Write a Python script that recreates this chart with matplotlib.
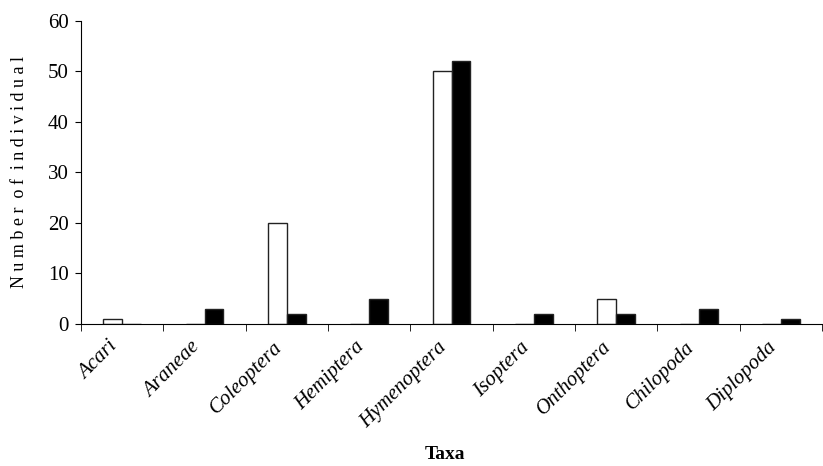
import matplotlib.pyplot as plt
import matplotlib.transforms as mtransforms
import numpy as np

# 数据
taxa = ['Acari', 'Araneae', 'Coleoptera', 'Hemiptera', 'Hymenoptera',
        'Isoptera', 'Onthoptera', 'Chilopoda', 'Diplopoda']
series_white = [1, 0, 20, 0, 50, 0, 5, 0, 0]
series_black = [0, 3, 2, 5, 52, 2, 2, 3, 1]
y_ticks = [0, 10, 20, 30, 40, 50, 60]

plt.rcParams['font.family'] = ['Liberation Serif', 'DejaVu Serif']

fig = plt.figure(figsize=(8.23, 4.66), dpi=100)
ax = fig.add_axes([0.0984, 0.305, 0.9005, 0.65])

x = np.arange(len(taxa))
w = 0.23
ax.bar(x - w / 2, series_white, w, color='white', edgecolor='#222222', linewidth=1)
ax.bar(x + w / 2, series_black, w, color='black', edgecolor='#222222', linewidth=1)

ax.set_xlim(-0.5, len(taxa) - 0.5)
ax.set_ylim(0, 60)
ax.set_yticks(y_ticks)
ax.tick_params(axis='y', labelsize=15, length=4, direction='out', pad=5)

ax.set_xticks(x)
ax.set_xticklabels(taxa, rotation=45, ha='right', rotation_mode='anchor',
                   fontsize=15, fontstyle='italic')
ax.tick_params(axis='x', which='major', length=0, pad=10)
ax.set_xticks(np.arange(-0.5, len(taxa)), minor=True)
ax.tick_params(axis='x', which='minor', length=5, direction='out')

# 标签整体左移一点
offset = mtransforms.ScaledTranslation(-14 / 100, 0, fig.dpi_scale_trans)
for lbl in ax.get_xticklabels():
    lbl.set_transform(lbl.get_transform() + offset)

ax.spines['top'].set_visible(False)
ax.spines['right'].set_visible(False)

ax.set_ylabel('N u m b e r  o f  i n d i v i d u a l', fontsize=13, labelpad=14)
fig.text(0.541, 0.015, 'Taxa', ha='center', fontsize=14, fontweight='bold')

plt.savefig('out.png', dpi=100)
